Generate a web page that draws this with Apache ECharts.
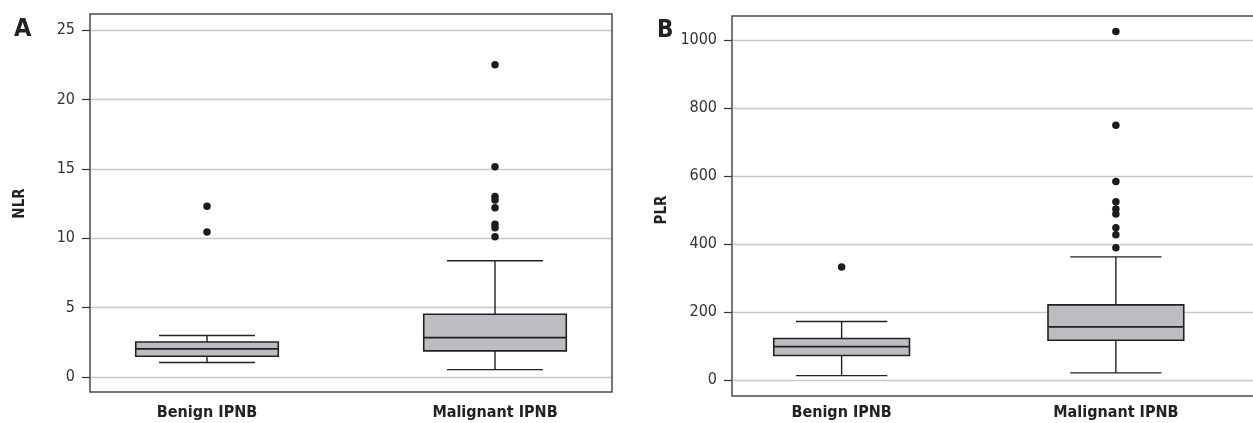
<!DOCTYPE html>
<html>
<head>
<meta charset="utf-8">
<script src="https://cdn.jsdelivr.net/npm/echarts@6/dist/echarts.min.js"></script>
<style>
  html, body { margin: 0; padding: 0; background: #fff; }
  #main { width: 1253px; height: 423px; }
</style>
</head>
<body>
<div id="main"></div>
<script>
// data
var categories = ['Benign IPNB', 'Malignant IPNB'];

// [low whisker, Q1, median, Q3, high whisker]
var nlrBoxes = [
    [1.04, 1.49, 2.02, 2.52, 2.99],
    [0.53, 1.88, 2.84, 4.52, 8.37]
];
var nlrOutliers = [
    [0, 12.3], [0, 10.45],
    [1, 22.5], [1, 15.15], [1, 13.0], [1, 12.75], [1, 12.2], [1, 11.0], [1, 10.75], [1, 10.1]
];
var nlrTicks = { min: 0, max: 25, interval: 5 };

var plrBoxes = [
    [13, 72, 98, 122, 172],
    [21, 117, 156, 221, 362]
];
var plrOutliers = [
    [0, 332],
    [1, 1025], [1, 749], [1, 584], [1, 524], [1, 503], [1, 488], [1, 448], [1, 427], [1, 389]
];
var plrTicks = { min: 0, max: 1000, interval: 200 };

var myChart = echarts.init(document.getElementById('main'));

var labelFont = "'DejaVu Sans Condensed', 'Liberation Sans Narrow', 'Open Sans', sans-serif";

function boxRows(boxes)
{
    var rows = [];
    for (var i = 0; i < boxes.length; i++) {
        rows.push([i].concat(boxes[i]));
    }
    return rows;
}

function renderBox(params, api)
{
    var cat = api.value(0);
    var low = api.coord([cat, api.value(1)]);
    var q1 = api.coord([cat, api.value(2)]);
    var med = api.coord([cat, api.value(3)]);
    var q3 = api.coord([cat, api.value(4)]);
    var high = api.coord([cat, api.value(5)]);
    var band = api.size([1, 0])[0];
    var bw = band * 0.495;
    var cw = band * 0.333;
    var x = low[0];
    var lineStyle = { stroke: '#222', lineWidth: 1.4 };
    return {
        type: 'group',
        children: [
            { type: 'line', shape: { x1: x, y1: q3[1], x2: x, y2: high[1] }, style: lineStyle },
            { type: 'line', shape: { x1: x, y1: q1[1], x2: x, y2: low[1] }, style: lineStyle },
            { type: 'line', shape: { x1: x - cw / 2, y1: high[1], x2: x + cw / 2, y2: high[1] }, style: lineStyle },
            { type: 'line', shape: { x1: x - cw / 2, y1: low[1], x2: x + cw / 2, y2: low[1] }, style: lineStyle },
            {
                type: 'rect',
                shape: { x: x - bw / 2, y: q3[1], width: bw, height: q1[1] - q3[1] },
                style: { fill: '#bcbdc0', stroke: '#222', lineWidth: 1.6 }
            },
            { type: 'line', shape: { x1: x - bw / 2, y1: med[1], x2: x + bw / 2, y2: med[1] }, style: { stroke: '#222', lineWidth: 1.7 } }
        ]
    };
}

// each panel: scale grid (ticks + gridlines) and box grid (wider so boxes sit where they do)
function panel(p)
{
    var g = p.gridStart;
    var grids = [
        { left: p.frame[0], top: p.plotTop, width: p.frame[2], height: p.plotHeight },
        { left: p.boxLeft, top: p.plotTop, width: p.boxWidth, height: p.plotHeight }
    ];
    var xAxes = [
        { gridIndex: g, type: 'value', show: false },
        {
            gridIndex: g + 1, type: 'category', data: categories, boundaryGap: true,
            axisLine: { show: false }, axisTick: { show: false },
            axisLabel: { margin: p.catMargin, color: '#222', fontFamily: labelFont, fontWeight: 'bold', fontSize: 16 }
        }
    ];
    var yAxes = [
        {
            gridIndex: g, type: 'value', min: p.ticks.min, max: p.ticks.max, interval: p.ticks.interval,
            name: p.name, nameLocation: 'middle', nameGap: p.nameGap,
            nameTextStyle: { color: '#222', fontFamily: labelFont, fontWeight: 'bold', fontSize: 15 },
            axisLine: { show: false },
            axisTick: { show: true, inside: false, length: 8, lineStyle: { color: '#333', width: 1.2 } },
            axisLabel: { margin: 15, color: '#333', fontFamily: labelFont, fontSize: 16,
                         formatter: function (v) { return String(v); } },
            splitLine: { show: true, lineStyle: { color: '#c8c8c8', width: 1.3 } }
        },
        { gridIndex: g + 1, type: 'value', min: p.ticks.min, max: p.ticks.max, show: false }
    ];
    var series = [
        {
            type: 'custom', xAxisIndex: g + 1, yAxisIndex: g + 1,
            renderItem: renderBox,
            encode: { x: 0, y: [1, 2, 3, 4, 5] },
            data: boxRows(p.boxes), z: 3
        },
        {
            type: 'scatter', xAxisIndex: g + 1, yAxisIndex: g + 1,
            symbol: 'circle', symbolSize: 7.5, clip: false,
            itemStyle: { color: '#1c1a1b', opacity: 1 },
            data: p.outliers, z: 4
        }
    ];
    // plot frame (B's right edge runs off the page in the original)
    var frame = {
        type: 'rect', z: 10, silent: true,
        shape: { x: p.frame[0], y: p.frame[1], width: p.frame[2], height: p.frame[3] },
        style: { fill: 'none', stroke: '#4a4a4a', lineWidth: 1.5 }
    };
    return { grids: grids, xAxes: xAxes, yAxes: yAxes, series: series, frame: frame };
}

var panelA = panel({
    gridStart: 0, frame: [90, 14, 522, 378], plotTop: 30, plotHeight: 347,
    boxLeft: 63, boxWidth: 576, catMargin: 28,
    ticks: nlrTicks, name: 'NLR', nameGap: 62, boxes: nlrBoxes, outliers: nlrOutliers
});
var panelB = panel({
    gridStart: 2, frame: [732, 16, 525, 380], plotTop: 40, plotHeight: 340,
    boxLeft: 704.5, boxWidth: 580, catMargin: 25,
    ticks: plrTicks, name: 'PLR', nameGap: 62, boxes: plrBoxes, outliers: plrOutliers
});

var option = {
    animation: false,
    title: [
        { text: 'A', left: 9, top: 12, textStyle: { fontFamily: labelFont, fontWeight: 'bold', fontSize: 25, color: '#222' } },
        { text: 'B', left: 652, top: 14, textStyle: { fontFamily: labelFont, fontWeight: 'bold', fontSize: 24, color: '#222' } }
    ],
    graphic: [panelA.frame, panelB.frame],
    grid: panelA.grids.concat(panelB.grids),
    xAxis: panelA.xAxes.concat(panelB.xAxes),
    yAxis: panelA.yAxes.concat(panelB.yAxes),
    series: panelA.series.concat(panelB.series)
};

myChart.setOption(option);
</script>
</body>
</html>
